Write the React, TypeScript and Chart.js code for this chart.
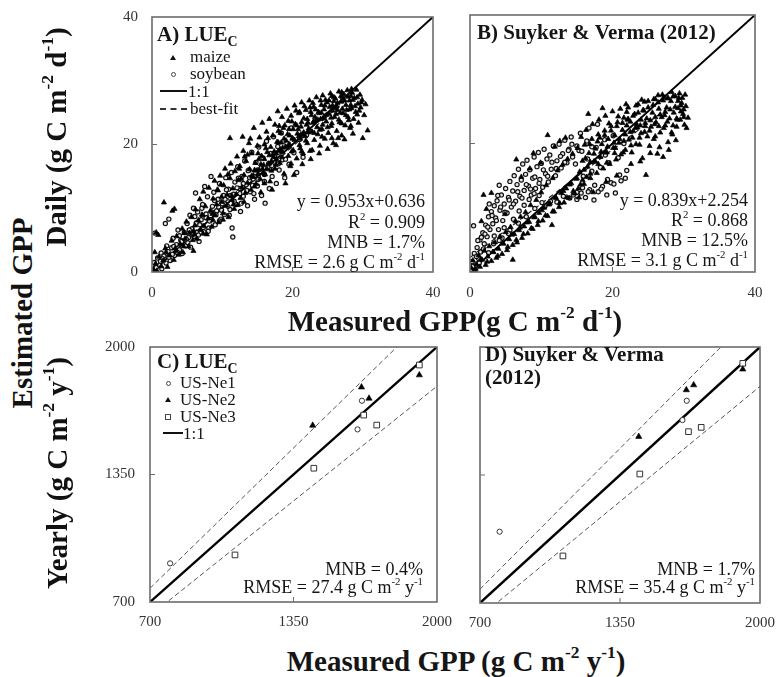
import React, { useEffect, useRef } from 'react';
import { Chart, registerables } from 'chart.js';

Chart.register(...registerables);

const SERIF = "'Liberation Serif', 'Times New Roman', Times, serif";

// ---- Daily GPP (g C m-2 d-1): flat lists of measured, estimated pairs ----
const maizeDailyLue = [
  0.2,0.4, 0.5,1.3, 0.7,0.2, 1.0,2.4, 1.3,0.9, 0.4,3.1, 1.6,1.8, 1.9,3.7, 2.2,0.8, 2.5,2.6,
  0.9,5.8, 2.8,4.9, 3.1,1.9, 3.4,3.3, 3.5,5.6, 3.8,2.7, 4.0,4.4, 4.3,6.8, 4.4,3.1, 4.7,5.2,
  4.9,7.9, 5.2,4.0, 5.3,6.1, 5.6,8.6, 5.8,5.0, 1.7,10.9, 2.9,9.6, 3.2,9.9, 0.6,6.2, 5.9,3.3,
  6.1,7.3, 6.2,9.8, 6.4,5.2, 6.6,8.1, 6.8,11.4, 6.9,6.6, 7.1,9.0, 7.3,12.6, 7.4,7.2, 7.6,10.3,
  7.8,5.9, 8.0,8.4, 8.1,13.2, 8.3,9.6, 8.5,7.1, 8.7,11.5, 8.9,14.3, 9.0,8.9, 9.2,10.6, 9.4,12.8,
  9.5,7.8, 9.7,15.1, 9.9,11.0, 10.1,9.2, 10.2,13.6, 10.4,16.2, 10.6,10.4, 10.7,12.1, 10.9,8.6, 11.1,14.7,
  11.2,17.0, 11.4,11.3, 11.5,13.1, 11.7,9.9, 11.8,15.8, 12.0,12.2, 12.1,18.1, 11.1,21.0, 12.2,10.5, 9.8,13.7,
  12.3,14.4, 12.5,16.6, 12.6,11.6, 12.8,13.3, 13.0,19.0, 13.1,15.2, 13.3,12.4, 13.4,17.4, 13.6,14.0, 13.8,20.2,
  13.9,16.1, 14.1,12.9, 14.2,18.6, 14.4,15.0, 14.5,22.6, 14.7,17.1, 14.8,13.8, 15.0,19.8, 15.1,16.0, 15.3,21.1,
  15.4,14.6, 15.6,18.2, 15.7,23.4, 15.9,16.8, 16.0,20.0, 16.1,15.3, 16.3,22.0, 16.4,18.8, 16.6,17.0, 16.7,24.0,
  16.9,19.6, 17.0,15.9, 17.2,21.4, 17.3,18.0, 17.5,23.1, 17.6,16.8, 17.8,20.4, 17.9,25.2, 18.0,19.0, 15.5,12.5,
  16.8,14.2, 14.0,20.9, 13.2,18.1, 12.9,21.2, 17.1,12.9, 18.1,22.9, 15.2,17.7, 16.2,19.4, 14.9,15.9, 17.7,17.7,
  18.2,17.1, 18.3,21.8, 18.5,24.3, 18.6,19.5, 18.8,15.4, 18.9,23.0, 19.1,20.6, 19.2,25.6, 19.4,18.2, 19.5,22.4,
  19.7,16.6, 19.8,24.5, 20.0,21.0, 20.1,19.1, 20.3,26.1, 20.4,23.2, 20.6,17.8, 20.7,21.7, 20.9,24.9, 21.0,19.9,
  21.2,22.8, 21.3,26.6, 21.5,18.6, 21.6,24.1, 21.8,21.3, 21.9,25.4, 22.1,20.2, 22.2,23.4, 22.4,26.9, 22.5,19.0,
  22.7,24.6, 22.8,22.0, 23.0,25.9, 23.1,20.7, 23.3,23.7, 23.4,27.4, 23.6,21.6, 23.7,25.1, 23.9,19.8, 24.0,24.0,
  19.0,13.9, 20.2,15.2, 21.4,16.9, 22.6,17.7, 23.8,18.6, 18.4,20.3, 19.6,21.4, 20.8,22.4, 22.0,23.1, 23.2,24.3,
  18.7,22.6, 19.9,23.6, 21.1,20.9, 22.3,21.9, 23.5,22.7, 20.5,25.3, 21.7,26.0, 22.9,26.5, 19.3,19.7, 24.1,26.2,
  24.2,22.4, 24.3,27.7, 24.5,25.5, 24.6,20.9, 24.8,23.6, 24.9,26.6, 25.1,21.8, 25.2,24.8, 25.4,28.0, 25.5,22.9,
  25.7,26.1, 25.8,20.2, 26.0,24.3, 26.1,27.2, 26.3,22.1, 26.4,25.4, 26.6,28.3, 26.7,23.5, 26.9,26.7, 27.0,21.4,
  27.2,24.9, 27.3,27.9, 27.5,23.0, 27.6,26.2, 27.8,28.5, 27.9,24.3, 28.1,26.9, 28.2,22.6, 28.4,25.7, 28.5,28.1,
  28.7,24.0, 28.8,27.3, 29.0,25.1, 29.1,28.6, 29.3,26.4, 29.4,23.4, 29.6,27.8, 29.7,25.8, 29.9,27.0, 30.0,21.0,
  30.4,26.3, 30.7,22.2, 30.2,24.6, 25.0,19.3, 26.2,19.9, 27.4,20.8, 28.6,21.7, 24.4,24.1, 25.6,23.3, 26.8,25.0,
  28.0,23.8, 29.2,24.7, 24.7,27.0, 25.9,26.8, 27.1,27.4, 28.3,27.6, 26.5,21.0, 27.7,25.4, 25.3,25.9, 29.8,26.6,
  14.3,14.9, 14.6,16.0, 15.1,15.3, 15.5,16.9, 15.8,15.5, 16.0,17.7, 16.4,16.1, 16.7,18.3, 17.0,17.4, 17.4,18.9,
  17.7,18.6, 18.0,20.3, 18.3,19.2, 18.5,18.0, 18.8,20.9, 19.0,19.6, 19.3,21.6, 19.6,20.0, 19.9,18.9, 20.1,22.4,
  20.3,20.7, 20.6,23.0, 20.9,21.3, 21.1,19.4, 21.3,23.5, 21.6,21.9, 21.9,20.6, 22.1,24.0, 22.3,22.5, 22.6,25.1,
  22.9,23.4, 23.1,21.8, 23.3,25.5, 23.6,23.9, 23.9,22.3, 24.1,25.0, 24.3,23.1, 24.6,26.1, 24.8,24.6, 25.0,22.7,
  25.2,26.9, 25.5,24.2, 25.7,25.3, 25.9,27.4, 26.2,24.8, 26.4,26.5, 26.6,23.9, 26.9,27.6, 27.1,25.6, 27.4,26.9,
  27.6,24.6, 27.9,27.5, 28.1,25.5, 28.3,26.2, 28.6,27.0, 28.9,26.0, 29.2,27.4, 29.5,25.3, 26.0,25.7, 24.5,24.4,
  23.0,23.6, 21.5,21.7, 20.0,20.9, 18.6,18.8, 17.2,18.4, 15.7,16.1, 14.2,15.1, 12.7,14.6, 11.3,11.9, 9.9,11.8,
  8.6,9.1, 7.2,8.9, 5.9,6.4, 4.6,6.1, 3.3,3.7, 2.0,3.1, 25.6,27.6, 27.0,28.2, 28.4,28.7, 24.0,26.9,
  22.5,25.8, 21.0,25.1, 19.4,23.7, 18.0,22.1, 16.5,21.0, 15.1,18.6, 13.6,18.4, 12.4,16.2, 10.8,15.3, 9.3,12.9,
  19.8,17.0, 21.3,18.9, 22.8,19.1, 24.2,21.2, 25.6,21.0, 27.0,23.3, 28.3,22.9, 17.5,16.2, 16.0,13.9, 14.6,13.4,
  13.1,11.0, 11.6,10.6, 10.1,8.2, 8.7,8.1, 7.3,6.0, 6.0,5.9, 4.5,4.0, 26.3,26.0, 23.8,24.9, 21.2,21.6,
];

const soybeanDailyLue = [
  0.1,0.3, 0.3,1.5, 0.6,0.7, 0.8,2.2, 1.1,1.1, 1.3,3.0, 1.4,0.5, 1.7,2.5, 2.0,1.4, 2.1,4.1,
  2.3,3.2, 2.6,1.8, 2.8,3.8, 3.0,5.3, 3.2,2.6, 3.5,4.3, 3.7,6.6, 3.9,3.5, 4.1,5.0, 4.3,2.9,
  4.6,6.2, 4.8,4.1, 5.0,7.6, 0.4,6.1, 1.9,7.6, 2.4,8.3,
  5.2,5.4, 5.4,8.9, 5.5,3.9, 5.7,6.8, 5.9,10.0, 6.0,5.6, 6.3,7.7, 6.5,9.4, 6.7,4.8, 7.0,8.2,
  7.2,10.6, 7.4,6.3, 7.7,9.1, 7.9,11.8, 8.1,6.9, 8.3,8.2, 8.6,10.3, 8.8,12.5, 9.0,7.4, 9.2,9.6,
  9.4,11.4, 9.6,13.9, 9.8,8.3, 10.0,10.7, 6.2,12.4, 7.5,13.4, 8.4,15.0,
  10.2,12.0, 10.3,9.0, 10.5,14.8, 10.7,11.2, 10.9,13.0, 11.1,9.8, 11.3,15.6, 11.4,6.9, 11.5,5.5, 11.6,12.2,
  11.8,14.1, 12.0,10.6, 12.2,16.5, 12.4,13.1, 12.6,9.5, 12.8,15.0, 13.0,11.9, 13.2,17.4, 13.4,13.7, 13.6,10.4,
  13.8,16.0, 14.0,12.6, 14.2,18.8, 14.4,14.6, 14.6,11.4, 14.8,17.2, 15.0,13.5,
  15.2,19.6, 15.4,15.8, 15.6,12.0, 15.8,17.9, 16.0,14.2, 16.1,10.8, 16.3,20.5, 16.5,16.4, 16.7,13.1, 16.9,18.6,
  17.1,15.0, 17.3,21.2, 17.5,17.1, 17.7,13.9, 17.9,19.7, 18.1,16.0, 18.4,21.8, 18.6,17.6, 18.9,14.8, 19.2,20.2,
  19.5,16.9, 19.8,22.6, 20.2,18.7, 20.6,15.6, 21.0,20.8, 21.5,18.0, 22.0,21.5,
  1.5,2.1, 2.4,2.3, 3.1,4.0, 3.6,3.1, 4.2,4.8, 4.9,5.1, 5.3,6.6, 5.8,5.9, 6.4,6.2, 6.8,7.4, 7.3,7.0,
  7.7,8.5, 8.2,8.0, 8.5,9.4, 9.1,9.0, 9.5,10.2, 9.9,9.7, 10.4,11.4, 10.8,10.3, 11.2,12.0, 11.7,11.1, 12.1,13.2,
  12.5,12.3, 13.0,13.9, 13.5,12.8, 13.9,14.8, 14.3,13.6, 14.7,15.6, 15.1,14.5, 15.6,16.4, 16.0,15.3, 16.6,17.0,
  17.0,16.1, 17.5,18.1, 18.0,17.0, 18.5,18.6, 19.0,17.7, 6.1,8.7, 7.1,10.0, 8.9,11.2, 10.6,12.9, 12.3,14.7,
  13.7,15.9, 5.1,4.6, 6.6,5.8, 8.0,6.4, 9.6,8.0, 11.0,8.9, 12.7,10.8, 14.5,12.3, 3.9,5.7, 2.9,2.8, 1.2,1.7,
];

const maizeDailySv = [
  0.2,0.6, 0.4,1.8, 0.7,0.3, 0.9,1.2, 1.2,2.6, 1.4,0.8, 1.6,7.9, 1.7,1.9, 2.0,3.3, 2.2,1.1,
  2.5,2.4, 2.7,4.0, 3.0,1.7, 3.0,12.3, 3.2,3.1, 3.5,4.6, 3.7,2.2, 4.0,3.6, 4.2,5.5, 4.5,2.8,
  4.7,4.4, 5.0,6.2, 5.2,3.4, 5.5,5.1, 5.7,7.0, 6.0,1.9, 6.0,4.2, 1.9,12.0, 2.3,9.8, 4.9,9.0,
  6.2,5.9, 6.4,7.9, 6.6,4.6, 6.9,6.5, 7.1,8.6, 7.3,5.3, 7.6,7.1, 7.8,9.3, 8.1,6.0, 8.3,7.8,
  8.5,10.4, 8.8,6.7, 9.0,8.5, 9.3,11.2, 9.5,7.3, 9.7,9.2, 10.0,12.4, 10.2,8.0, 10.4,10.0, 10.7,13.5,
  10.9,8.7, 11.2,10.7, 11.5,7.3, 11.6,14.6, 11.8,9.4, 12.1,11.5, 12.3,15.8, 12.5,10.1, 12.8,12.3, 13.0,16.7,
  13.2,10.8, 13.5,13.0, 13.7,17.6, 13.9,11.5, 14.2,13.8, 14.4,18.4, 14.7,12.2, 14.9,14.5, 10.9,21.3, 8.9,18.5,
  9.9,17.0, 11.9,19.5, 12.6,20.4, 13.4,20.9, 7.2,14.8, 8.4,16.1, 6.5,17.5,
  15.1,19.3, 15.2,13.0, 15.4,15.6, 15.6,21.0, 15.8,17.3, 16.0,13.7, 16.1,19.8, 16.3,22.1, 16.5,16.4, 16.7,18.5,
  16.9,14.6, 17.1,20.7, 17.2,23.0, 17.4,17.2, 17.6,19.2, 17.8,15.4, 18.0,21.4, 18.1,23.7, 18.3,17.9, 18.5,19.9,
  18.7,16.1, 18.9,22.0, 19.0,24.3, 19.2,18.6, 19.4,20.7, 19.6,16.8, 19.8,22.7, 20.0,25.0, 20.1,19.3, 20.3,21.3,
  20.5,17.5, 20.7,23.3, 20.9,20.1, 21.1,25.4, 21.2,18.3, 21.4,22.1, 21.6,24.0, 21.8,19.0, 22.0,22.8, 15.3,11.6,
  17.3,12.4, 19.1,14.0, 20.6,15.0, 16.6,24.6, 18.6,25.5,
  22.2,25.6, 22.3,20.6, 22.5,23.4, 22.7,18.6, 22.9,21.9, 23.1,24.6, 23.3,19.9, 23.5,22.5, 23.6,26.1, 23.8,20.9,
  24.0,23.7, 24.2,17.7, 24.4,25.1, 24.5,21.8, 24.7,15.1, 24.8,23.9, 25.0,26.6, 25.2,19.6, 25.4,22.6, 25.6,24.8,
  25.8,20.7, 26.0,26.9, 26.1,23.3, 26.3,18.4, 26.5,25.4, 26.7,21.7, 26.9,24.1, 27.1,17.9, 27.2,27.2, 27.4,22.8,
  27.6,25.6, 27.8,20.2, 28.0,23.9, 28.2,26.6, 28.4,21.4, 28.6,24.8, 28.8,27.4, 29.0,22.6, 29.2,25.5, 29.3,27.1,
  29.5,23.7, 29.7,26.3, 29.9,24.6, 30.1,22.9, 30.4,22.4, 30.3,25.8, 30.6,24.0, 22.6,16.8, 23.9,17.2, 25.3,18.5,
  26.6,19.4, 27.9,19.0, 28.9,20.5, 22.1,23.7, 23.4,23.0, 24.6,22.7, 25.9,23.0, 27.3,24.4, 28.5,22.8, 29.6,25.0,
  30.2,27.6, 26.4,27.5, 24.1,26.8, 21.9,26.1, 27.7,27.0, 29.4,27.8,
  0.8,0.5, 1.5,2.0, 2.4,1.6, 3.3,3.1, 3.9,2.5, 4.6,4.5, 5.3,3.9, 5.9,5.8, 6.5,5.0, 7.0,6.9,
  7.5,5.9, 8.0,7.7, 8.6,6.8, 9.1,8.6, 9.6,7.9, 10.1,9.6, 10.6,8.8, 11.1,10.5, 11.6,9.4, 12.0,11.6,
  12.6,10.7, 13.1,12.6, 13.6,11.6, 14.0,13.6, 14.5,12.6, 15.0,14.6, 15.5,13.6, 16.0,15.9, 16.4,14.8, 16.9,17.1,
  17.4,18.4, 17.9,20.3, 18.4,18.7, 18.9,21.3, 19.3,19.5, 19.8,22.0, 20.2,20.1, 20.6,22.7, 21.0,20.7, 21.4,23.2,
  21.8,21.4, 22.2,23.8, 22.5,21.8, 22.9,24.3, 23.2,22.4, 23.6,24.8, 23.9,22.8, 24.3,25.2, 24.6,23.2, 25.0,25.6,
  25.3,23.6, 25.7,26.0, 26.0,24.1, 26.4,26.4, 26.7,24.5, 27.1,26.7, 27.4,24.9, 27.8,27.1, 28.1,25.3, 28.5,27.3,
  28.8,25.7, 29.2,26.6, 29.6,25.9, 30.0,25.3, 16.2,17.7, 16.8,19.9, 17.6,17.2, 18.2,20.9, 19.0,18.6, 19.5,23.1,
  20.4,19.3, 20.8,24.2, 21.6,20.4, 22.0,24.9, 22.8,20.9, 23.3,25.9, 24.0,21.6, 24.5,26.5, 25.2,22.0, 25.8,26.9,
  26.5,22.7, 27.0,27.6, 27.7,23.4, 28.3,28.0, 29.0,23.9, 29.8,27.1, 15.8,14.3, 16.9,15.3, 18.0,16.8, 19.2,17.0,
  20.3,18.5, 21.5,18.6, 22.6,19.7, 23.8,19.8, 24.9,21.1, 26.0,21.1, 27.2,22.4, 28.3,21.7, 29.1,23.7, 30.0,24.1,
];

const soybeanDailySv = [
  0.1,0.4, 0.3,1.6, 0.5,7.2, 0.6,2.9, 0.8,1.0, 1.0,3.8, 1.2,2.1, 1.4,5.0, 1.5,3.1, 1.8,6.1,
  2.0,4.4, 2.2,7.3, 2.4,5.5, 2.6,8.6, 2.8,6.6, 3.0,9.4, 3.2,7.5, 3.4,10.3, 3.6,8.4, 3.8,11.1,
  4.0,6.6, 4.2,9.6, 4.4,12.0, 4.6,8.0, 4.8,10.6, 5.0,13.0, 5.2,9.2, 5.4,11.6, 5.6,14.1, 5.8,10.1,
  6.0,12.6, 6.2,15.0, 6.4,11.0, 6.6,13.6, 6.8,16.0, 7.0,11.8, 7.2,14.3, 7.4,16.8, 7.6,12.7, 7.8,15.2,
  8.0,17.4, 8.2,13.4, 8.4,15.9, 8.6,12.0, 8.8,14.6, 9.0,17.9, 9.2,13.0, 9.4,16.4, 9.6,18.6, 9.8,14.4,
  10.0,16.9, 10.2,13.2, 10.4,19.1, 10.6,15.3, 10.8,17.6, 11.0,14.0, 11.2,18.2, 11.4,16.0, 11.7,19.6, 12.0,15.0,
  12.2,17.3, 12.5,19.9, 12.8,16.2, 13.0,18.4, 13.3,20.5, 13.6,17.0, 13.9,19.1, 14.2,21.0, 2.1,5.9, 3.3,4.4,
  4.5,5.3, 5.6,6.5, 6.8,7.6, 7.9,8.6, 9.1,9.9, 10.1,10.8, 1.1,4.9, 2.7,10.6, 4.1,13.5, 3.9,11.9,
  14.5,12.0, 14.8,16.8, 15.0,11.3, 15.3,18.9, 15.6,12.3, 15.9,14.9, 16.2,11.6, 16.5,17.6, 16.8,12.8, 17.1,15.7,
  17.4,11.2, 17.7,19.4, 18.0,12.5, 18.3,16.3, 18.6,13.3, 18.9,20.6, 19.2,12.0, 19.5,17.0, 19.8,13.9, 20.1,21.2,
  20.4,12.3, 20.8,17.8, 21.2,14.2, 21.6,20.0, 22.0,15.8, 14.3,19.9, 15.5,21.6, 16.7,22.4, 17.9,23.0, 19.0,18.2,
  1.6,5.4, 2.5,7.0, 3.1,8.8, 3.7,8.0, 4.3,10.1, 4.9,9.3, 5.5,11.2, 6.1,10.6, 6.7,12.5, 7.3,11.5,
  7.9,13.6, 8.5,12.9, 9.1,14.8, 9.7,13.8, 10.3,15.9, 10.9,14.9, 11.5,17.1, 12.1,16.1, 12.7,18.0, 13.3,17.1,
  13.8,18.9, 14.4,17.9, 15.0,19.6, 15.7,18.8, 16.4,20.4, 17.1,19.5, 10.5,10.2, 11.3,11.0, 12.2,10.9, 13.1,11.8,
  14.0,11.5, 15.0,12.4, 15.8,13.1, 16.6,12.5, 17.5,13.5, 18.4,12.9, 19.3,14.4, 20.2,13.7, 21.0,15.1, 21.8,14.6,
  0.4,0.9, 0.9,2.4, 1.3,1.4, 1.9,3.6, 2.6,3.0, 3.4,5.6, 4.1,4.9, 4.8,6.9, 5.4,6.0, 6.1,8.2,
  6.9,9.5, 7.6,10.4, 8.3,11.3, 9.0,12.2, 9.7,11.9,
];

// best-fit slope and intercept, and the measured range the fit spans
const fitLue = [0.953, 0.636];
const fitSv = [0.839, 2.254];
const fitRange = [0, 28];

// daily statistics: LUEc, Suyker & Verma
const r2Daily = ['0.909', '0.868'];
const mnbDaily = ['1.7%', '12.5%'];
const rmseDaily = ['2.6', '3.1'];

// ---- Yearly GPP (g C m-2 y-1) per site ----
const ne1Measured = [791, 1640, 1660];
const ne1Lue = [897, 1580, 1726];
const ne1Sv = [1062, 1629, 1727];

const ne2Measured = [1437, 1658, 1692, 1920];
const ne2Lue = [1600, 1795, 1738, 1857];
const ne2Sv = [1545, 1782, 1807, 1887];

const ne3Measured = [1085, 1442, 1668, 1727, 1920];
const ne3Lue = [940, 1382, 1653, 1602, 1908];
const ne3Sv = [939, 1355, 1570, 1592, 1917];

// +/-10% envelope around the 1:1 line
const bandFactors = [1.1, 0.9];

const mnbAnnual = ['0.4%', '1.7%'];
const rmseAnnual = ['27.4', '35.4'];

// axis ticks
const dailyTicks = [0, 20, 40];
const annualTicks = [700, 1350, 2000];

// ---------------------------------------------------------------

// page-space plot frames (left, top, right, bottom) and the canvas insets around them
type Frame = { l: number; t: number; r: number; b: number };
const frameA: Frame = { l: 152, t: 17, r: 433, b: 272 };
const frameB: Frame = { l: 470, t: 15, r: 755, b: 272 };
const frameC: Frame = { l: 150, t: 347, r: 437, b: 602 };
const frameD: Frame = { l: 480, t: 347, r: 760, b: 603 };
const PAD = { left: 30, top: 26, right: 28, bottom: 0 };
const X_AXIS_H = 30;

const pairs = (flat: number[]) => {
  const out: { x: number; y: number }[] = [];
  for (let i = 0; i < flat.length; i += 2) out.push({ x: flat[i], y: flat[i + 1] });
  return out;
};
const zip = (xs: number[], ys: number[]) => xs.map((x, i) => ({ x, y: ys[i] }));

function framePlugin(midTick: number) {
  return {
    id: 'frame',
    afterDatasetsDraw(chart: any) {
      const { ctx, chartArea: a, scales } = chart;
      ctx.save();
      ctx.strokeStyle = '#6c6c6c';
      ctx.lineWidth = 1.6;
      ctx.strokeRect(a.left, a.top, a.right - a.left, a.bottom - a.top);
      ctx.lineWidth = 1;
      const px = scales.x.getPixelForValue(midTick);
      const py = scales.y.getPixelForValue(midTick);
      ctx.beginPath();
      ctx.moveTo(px, a.bottom);
      ctx.lineTo(px, a.bottom - 5);
      ctx.moveTo(a.left, py);
      ctx.lineTo(a.left + 5, py);
      ctx.stroke();
      ctx.restore();
    },
  };
}

function baseOptions(ticks: number[], showY: boolean, yWidth: number, xPad: number, yPad: number) {
  const font = { family: SERIF, size: 15 };
  const setTicks = (scale: any) => {
    scale.ticks = ticks.map((v) => ({ value: v }));
  };
  const fmt = (v: any) => String(v);
  return {
    responsive: false,
    animation: false as const,
    events: [],
    layout: { padding: PAD },
    plugins: { legend: { display: false }, tooltip: { enabled: false } },
    scales: {
      x: {
        type: 'linear' as const,
        min: ticks[0],
        max: ticks[ticks.length - 1],
        afterBuildTicks: setTicks,
        afterFit: (s: any) => { s.height = X_AXIS_H; },
        grid: { display: false, drawTicks: false },
        border: { display: false },
        ticks: { font, color: '#333', padding: xPad, maxRotation: 0, autoSkip: false, callback: fmt },
      },
      y: {
        type: 'linear' as const,
        min: ticks[0],
        max: ticks[ticks.length - 1],
        afterBuildTicks: setTicks,
        afterFit: (s: any) => { s.width = yWidth; },
        grid: { display: false, drawTicks: false },
        border: { display: false },
        ticks: { display: showY, font, color: '#333', padding: yPad, autoSkip: false, callback: fmt },
      },
    },
  };
}

function dailyConfig(maize: number[], soy: number[], fit: number[], showY: boolean, yWidth: number) {
  const fitLine = fitRange.map((x) => ({ x, y: fit[0] * x + fit[1] }));
  const lo = dailyTicks[0];
  const hi = dailyTicks[dailyTicks.length - 1];
  return {
    type: 'scatter' as const,
    data: {
      datasets: [
        { label: 'maize', data: pairs(maize), pointStyle: 'triangle', pointRadius: 3, backgroundColor: '#000', borderColor: '#000', borderWidth: 0.7 },
        { label: 'soybean', data: pairs(soy), pointStyle: 'circle', pointRadius: 2.1, backgroundColor: '#e6e6e6', borderColor: '#111', borderWidth: 1.2 },
        { label: '1:1', data: [{ x: lo, y: lo }, { x: hi, y: hi }], showLine: true, pointRadius: 0, borderColor: '#000', borderWidth: 2 },
        { label: 'best-fit', data: fitLine, showLine: true, pointRadius: 0, borderColor: '#222', borderWidth: 1.2, borderDash: [5, 4] },
      ],
    },
    options: baseOptions(dailyTicks, showY, yWidth, 12, 14),
    plugins: [framePlugin(dailyTicks[1])],
  };
}

function annualConfig(est1: number[], est2: number[], est3: number[], showY: boolean, yWidth: number) {
  const lo = annualTicks[0];
  const hi = annualTicks[annualTicks.length - 1];
  const band = bandFactors.map((f) => ({
    label: `${f}`,
    data: [{ x: lo, y: lo * f }, { x: hi, y: hi * f }],
    showLine: true,
    pointRadius: 0,
    borderColor: '#555',
    borderWidth: 1,
    borderDash: [5, 3],
  }));
  return {
    type: 'scatter' as const,
    data: {
      datasets: [
        { label: 'US-Ne1', data: zip(ne1Measured, est1), pointStyle: 'circle', pointRadius: 2.6, backgroundColor: '#fff', borderColor: '#333', borderWidth: 1 },
        { label: 'US-Ne2', data: zip(ne2Measured, est2), pointStyle: 'triangle', pointRadius: 3.6, backgroundColor: '#000', borderColor: '#000', borderWidth: 0.6 },
        { label: 'US-Ne3', data: zip(ne3Measured, est3), pointStyle: 'rect', pointRadius: 4, backgroundColor: '#fff', borderColor: '#333', borderWidth: 1 },
        { label: '1:1', data: [{ x: lo, y: lo }, { x: hi, y: hi }], showLine: true, pointRadius: 0, borderColor: '#000', borderWidth: 2.4 },
        ...band,
      ],
    },
    options: baseOptions(annualTicks, showY, yWidth, 11, 15),
    plugins: [framePlugin(annualTicks[1])],
  };
}

function Panel({ frame, yWidth, build }: { frame: Frame; yWidth: number; build: () => any }) {
  const ref = useRef<HTMLCanvasElement>(null);
  const x = frame.l - PAD.left - yWidth;
  const y = frame.t - PAD.top;
  const w = PAD.left + yWidth + (frame.r - frame.l) + PAD.right;
  const h = PAD.top + (frame.b - frame.t) + X_AXIS_H;
  useEffect(() => {
    const chart = new Chart(ref.current as HTMLCanvasElement, build());
    return () => chart.destroy();
  }, []);
  return (
    <canvas
      ref={ref}
      width={w}
      height={h}
      style={{ position: 'absolute', left: x, top: y, width: w, height: h }}
    />
  );
}

const Sup = ({ children }: { children: React.ReactNode }) => (
  <span style={{ fontSize: '0.6em', position: 'relative', top: '-0.75em', lineHeight: 0 }}>{children}</span>
);
const Sub = ({ children }: { children: React.ReactNode }) => (
  <span style={{ fontSize: '0.66em', position: 'relative', top: '0.35em', lineHeight: 0 }}>{children}</span>
);

function Label({ x, base, size = 18, bold = false, anchor = 'start', children }: any) {
  const shift = anchor === 'end' ? 'translateX(-100%)' : anchor === 'middle' ? 'translateX(-50%)' : undefined;
  return (
    <div
      style={{
        position: 'absolute',
        left: x,
        top: base - 0.8375 * size,
        fontFamily: SERIF,
        fontSize: size,
        lineHeight: `${size}px`,
        fontWeight: bold ? 700 : 400,
        whiteSpace: 'nowrap',
        color: '#151515',
        transform: shift,
      }}
    >
      {children}
    </div>
  );
}

function VLabel({ cx, cy, size = 29, children }: any) {
  return (
    <div
      style={{
        position: 'absolute',
        left: cx,
        top: cy,
        fontFamily: SERIF,
        fontSize: size,
        lineHeight: `${size}px`,
        fontWeight: 700,
        whiteSpace: 'nowrap',
        color: '#111',
        transform: 'translate(-50%, -50%) rotate(-90deg)',
      }}
    >
      {children}
    </div>
  );
}

const mark = (style: React.CSSProperties) => <div style={{ position: 'absolute', ...style }} />;
const tri = (cx: number, cy: number) =>
  mark({ left: cx - 3, top: cy - 3, width: 0, height: 0, borderLeft: '3px solid transparent', borderRight: '3px solid transparent', borderBottom: '5.5px solid #111' });
const circ = (cx: number, cy: number) =>
  mark({ left: cx - 2.5, top: cy - 2.5, width: 3, height: 3, border: '1px solid #444', borderRadius: '50%' });
const square = (cx: number, cy: number) =>
  mark({ left: cx - 3, top: cy - 3, width: 4, height: 4, border: '1px solid #444' });
const solid = (x0: number, x1: number, y: number, w = 2) =>
  mark({ left: x0, top: y - w / 2, width: x1 - x0, height: w, background: '#111' });
const dashed = (x0: number, x1: number, y: number) =>
  mark({ left: x0, top: y - 1, width: x1 - x0, height: 0, borderTop: '2px dashed #333' });

const perDay = <>g C m<Sup>-2</Sup> d<Sup>-1</Sup></>;
const perYear = <>g C m<Sup>-2</Sup> y<Sup>-1</Sup></>;

export default function App() {
  return (
    <div style={{ position: 'absolute', left: 0, top: 0, width: 779, height: 677, overflow: 'hidden', background: '#fff' }}>
      <Panel frame={frameA} yWidth={50} build={() => dailyConfig(maizeDailyLue, soybeanDailyLue, fitLue, true, 50)} />
      <Panel frame={frameB} yWidth={0} build={() => dailyConfig(maizeDailySv, soybeanDailySv, fitSv, false, 0)} />
      <Panel frame={frameC} yWidth={50} build={() => annualConfig(ne1Lue, ne2Lue, ne3Lue, true, 50)} />
      <Panel frame={frameD} yWidth={0} build={() => annualConfig(ne1Sv, ne2Sv, ne3Sv, false, 0)} />

      {/* shared axis titles */}
      <VLabel cx={22} cy={313}>Estimated GPP</VLabel>
      <VLabel cx={56} cy={137}>Daily ({perDay})</VLabel>
      <VLabel cx={57} cy={473}>Yearly ({perYear})</VLabel>
      <Label x={455} base={331} size={29} bold anchor="middle">Measured GPP({perDay})</Label>
      <Label x={456} base={671} size={29} bold anchor="middle">Measured GPP ({perYear})</Label>

      {/* A) LUEc daily */}
      <Label x={157} base={42} size={21} bold>A) LUE<Sub>C</Sub></Label>
      {tri(173, 58)}
      <Label x={190} base={62} size={17}>maize</Label>
      {circ(173, 74)}
      <Label x={190} base={79} size={17}>soybean</Label>
      {solid(160, 187, 91)}
      <Label x={188} base={97} size={17}>1:1</Label>
      {dashed(160, 187, 109)}
      <Label x={190} base={114} size={17}>best-fit</Label>
      <Label x={425} base={207} anchor="end">y = {fitLue[0]}x+{fitLue[1]}</Label>
      <Label x={425} base={228} anchor="end">R<Sup>2</Sup> = {r2Daily[0]}</Label>
      <Label x={425} base={248} anchor="end">MNB = {mnbDaily[0]}</Label>
      <Label x={425} base={268} anchor="end">RMSE = {rmseDaily[0]} {perDay}</Label>

      {/* B) Suyker & Verma daily */}
      <Label x={477} base={40} size={21} bold>B) Suyker &amp; Verma (2012)</Label>
      <Label x={748} base={206} anchor="end">y = {fitSv[0]}x+{fitSv[1]}</Label>
      <Label x={748} base={226} anchor="end">R<Sup>2</Sup> = {r2Daily[1]}</Label>
      <Label x={748} base={246} anchor="end">MNB = {mnbDaily[1]}</Label>
      <Label x={748} base={266} anchor="end">RMSE = {rmseDaily[1]} {perDay}</Label>

      {/* C) LUEc yearly */}
      <Label x={157} base={369} size={21} bold>C) LUE<Sub>C</Sub></Label>
      {circ(168, 383)}
      <Label x={180} base={388} size={17}>US-Ne1</Label>
      {tri(168, 400)}
      <Label x={180} base={405} size={17}>US-Ne2</Label>
      {square(168, 417)}
      <Label x={180} base={422} size={17}>US-Ne3</Label>
      {solid(163, 183, 433, 2.4)}
      <Label x={183} base={439} size={17}>1:1</Label>
      <Label x={423} base={575} anchor="end">MNB = {mnbAnnual[0]}</Label>
      <Label x={423} base={593} anchor="end">RMSE = {rmseAnnual[0]} {perYear}</Label>

      {/* D) Suyker & Verma yearly */}
      <Label x={485} base={362} size={21} bold>D) Suyker &amp; Verma</Label>
      <Label x={485} base={385} size={21} bold>(2012)</Label>
      <Label x={755} base={575} anchor="end">MNB = {mnbAnnual[1]}</Label>
      <Label x={755} base={593} anchor="end">RMSE = {rmseAnnual[1]} {perYear}</Label>
    </div>
  );
}
